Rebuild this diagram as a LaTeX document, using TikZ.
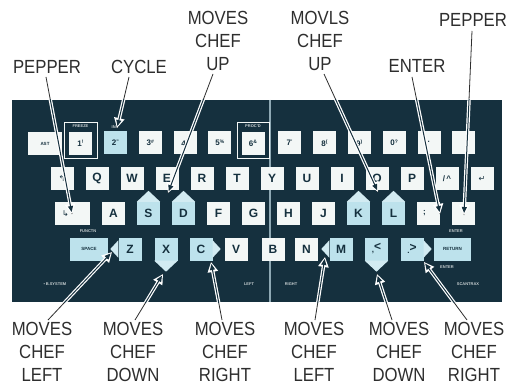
\documentclass[tikz,border=0pt]{standalone}
\usepackage{fontspec}
\setmainfont{Liberation Sans}
\newfontfamily\labfont[FakeStretch=0.88]{Liberation Sans}
\newfontfamily\symfont{DejaVu Sans}
\usetikzlibrary{arrows.meta}
\definecolor{kbd}{HTML}{15303E}
\definecolor{keyblue}{HTML}{BDE2EC}
\definecolor{keywhite}{HTML}{F3F7F6}
\definecolor{ptr}{HTML}{D2EBF2}
\definecolor{ink}{HTML}{2E2E2E}
\definecolor{divider}{HTML}{8FA9B4}
\newcommand\kl[2]{#1\raisebox{2.5pt}{\fontsize{5}{5}\selectfont #2}}
\newcommand\kbcallout[2]{%
  \draw[leader] (#1) -- (#2);
  \begin{scope}
    \clip (kb.north west) rectangle (kb.south east);
    \draw[arrout] (#1) -- (#2);
    \draw[arrin] (#1) -- (#2);
  \end{scope}}
\begin{document}
\begin{tikzpicture}[x=1pt,y=-1pt,
  keybase/.style={minimum width=23pt,minimum height=23pt,inner sep=0pt,text=kbd,font=\bfseries\fontsize{12}{12}\selectfont},
  wkey/.style={keybase,fill=keywhite},
  bkey/.style={keybase,fill=keyblue},
  numkey/.style={font=\bfseries\fontsize{8}{8}\selectfont},
  smallkey/.style={font=\bfseries\fontsize{4.5}{4.5}\selectfont},
  symkey/.style={font=\symfont\fontsize{8}{8}\selectfont},
  lab/.style={font=\labfont\fontsize{19}{23}\selectfont,text=ink,align=center,inner sep=0pt},
  tinytext/.style={font=\bfseries\fontsize{4}{4}\selectfont,text=keywhite!80!kbd,inner sep=0pt},
  leader/.style={ink,line width=0.8pt},
  arrout/.style={white,line width=3.4pt,-{Triangle[length=10pt,width=10pt]}},
  arrin/.style={kbd,line width=1pt,shorten >=2pt,-{Triangle[length=6pt,width=5pt]}},
  pointer/.style={fill=ptr}
]
\useasboundingbox (0,0) rectangle (514,385);
\fill[white] (0,0) rectangle (514,385);

% keyboard body
\node[fill=kbd,minimum width=490pt,minimum height=202pt,inner sep=0pt,anchor=north west] (kb) at (12,100) {};
\draw[divider,line width=1.2pt] (270,100) -- (270,302);

% framed keys
\draw[keywhite,line width=0.9pt] (64,122) rectangle (97,158);
\draw[keywhite,line width=0.9pt] (237,122) rectangle (269,158);
\node[tinytext] (tfreeze) at (80.5,126.5) {FREEZE};
\node[tinytext] (tprocd) at (253,126.5) {PROC'D};
\node[tinytext] (tins) at (115,127) {INS};

% row 1
\node[wkey,minimum width=34pt,smallkey] (kast) at (45,143.5) {AST};
\node[wkey,numkey] (k1) at (80.5,143.5) {\kl{1}{!}};
\node[bkey,numkey] (k2) at (115.4,143) {\kl{2}{"}};
\node[wkey,numkey] (k3) at (150.2,143) {\kl{3}{\#}};
\node[wkey,numkey] (k4) at (185,143) {\kl{4}{\$}};
\node[wkey,numkey] (k5) at (219.9,143) {\kl{5}{\%}};
\node[wkey,numkey] (k6) at (253,143.5) {\kl{6}{\&}};
\node[wkey,numkey] (k7) at (289.6,143) {\kl{7}{'}};
\node[wkey,numkey] (k8) at (324.4,143) {\kl{8}{(}};
\node[wkey,numkey] (k9) at (359.3,143) {\kl{9}{)}};
\node[wkey,numkey] (k0) at (394.1,143) {\kl{0}{?}};
\node[wkey,numkey] (keq) at (429,143) {\textperiodcentered};
\node[wkey] (kblank) at (463.8,143) {};

% row 2
\node[wkey,symkey] (kback) at (62,178.5) {↰};
\node[wkey] (kQ) at (97,178.5) {Q};
\node[wkey] (kW) at (132,178.5) {W};
\node[wkey] (kE) at (167,178.5) {E};
\node[wkey] (kR) at (202,178.5) {R};
\node[wkey] (kT) at (237,178.5) {T};
\node[wkey] (kY) at (272,178.5) {Y};
\node[wkey] (kU) at (307,178.5) {U};
\node[wkey] (kI) at (342,178.5) {I};
\node[wkey] (kO) at (377,178.5) {O};
\node[wkey] (kP) at (412,178.5) {P};
\node[wkey,numkey] (kslash) at (447,178.5) {/\,\^{}};
\node[wkey,symkey] (kret) at (482,178.5) {↵};

% row 3
\node[wkey,minimum width=35pt,symkey] (kshift) at (72.5,213.5) {\hspace*{-14pt}↳};
\node[wkey] (kA) at (113.5,213.5) {A};
\node[bkey] (kS) at (148.5,213.5) {S};
\node[bkey] (kD) at (183.5,213.5) {D};
\node[wkey] (kF) at (218.5,213.5) {F};
\node[wkey] (kG) at (253.5,213.5) {G};
\node[wkey] (kH) at (288.5,213.5) {H};
\node[wkey] (kJ) at (323.5,213.5) {J};
\node[bkey] (kK) at (358.5,213.5) {K};
\node[bkey] (kL) at (393.5,213.5) {L};
\node[wkey,numkey] (ksemi) at (428.5,213.5) {\hspace*{-8pt};};
\node[wkey] (kdown) at (463.5,213.5) {};
\node[tinytext] (tfunc) at (88,231.5) {FUNCTN};
\node[tinytext] (tenter1) at (456,231.5) {ENTER};

% row 4
\node[bkey,minimum width=38pt,smallkey] (kspace) at (89,249) {SPACE};
\node[bkey] (kZ) at (130,249) {Z};
\node[bkey] (kX) at (166,249) {X};
\node[bkey] (kC) at (201,249) {C};
\node[wkey] (kV) at (236,249) {V};
\node[wkey] (kB) at (273,249) {B};
\node[wkey] (kN) at (306.5,249) {N};
\node[bkey] (kM) at (341,249) {M};
\node[bkey] (kless) at (376.5,249) {\raisebox{-2pt}{\fontsize{8}{8}\selectfont,}<};
\node[bkey] (kgreater) at (412,249) {\raisebox{-2pt}{\fontsize{8}{8}\selectfont.}>};
\node[bkey,minimum width=37pt,smallkey] (kreturn) at (452.5,249) {RETURN};
\node[tinytext] (tenter2) at (447,267) {ENTER};

% direction pointers
\fill[pointer] (kS.north west) -- ([yshift=11pt]kS.north) -- (kS.north east) -- cycle;
\fill[pointer] (kD.north west) -- ([yshift=11pt]kD.north) -- (kD.north east) -- cycle;
\fill[pointer] (kK.north west) -- ([yshift=11pt]kK.north) -- (kK.north east) -- cycle;
\fill[pointer] (kL.north west) -- ([yshift=11pt]kL.north) -- (kL.north east) -- cycle;
\fill[pointer] ([yshift=-3pt]kZ.north west) -- ([xshift=-8pt]kZ.west) -- ([yshift=3pt]kZ.south west) -- cycle;
\fill[pointer] ([yshift=-3pt]kM.north west) -- ([xshift=-8pt]kM.west) -- ([yshift=3pt]kM.south west) -- cycle;
\fill[pointer] ([yshift=-3pt]kC.north east) -- ([xshift=8pt]kC.east) -- ([yshift=3pt]kC.south east) -- cycle;
\fill[pointer] ([yshift=-3pt]kgreater.north east) -- ([xshift=8pt]kgreater.east) -- ([yshift=3pt]kgreater.south east) -- cycle;
\fill[pointer] (kX.south west) -- ([yshift=-11pt]kX.south) -- (kX.south east) -- cycle;
\fill[pointer] (kless.south west) -- ([yshift=-11pt]kless.south) -- (kless.south east) -- cycle;

% bottom tiny texts
\node[tinytext] (tbrand) at (55,284) {\textbullet\,B.SYSTEM};
\node[tinytext] (tleft) at (249,284) {LEFT};
\node[tinytext] (tright) at (291,284) {RIGHT};
\node[tinytext] (tscan) at (468,284) {SCANTRAX};

% labels
\node[lab] (pepL) at (47,67) {PEPPER};
\node[lab] (cycle) at (139,67) {CYCLE};
\node[lab] (upL) at (218,41) {MOVES\\CHEF\\UP};
\node[lab] (upR) at (320,41) {MOVLS\\CHEF\\UP};
\node[lab] (enter) at (417,66) {ENTER};
\node[lab] (pepR) at (473,20) {PEPPER};
\node[lab] (leftL) at (42,352) {MOVES\\CHEF\\LEFT};
\node[lab] (downL) at (133,352) {MOVES\\CHEF\\DOWN};
\node[lab] (rightL) at (225,352) {MOVES\\CHEF\\RIGHT};
\node[lab] (leftR) at (314,352) {MOVES\\CHEF\\LEFT};
\node[lab] (downR) at (399,352) {MOVES\\CHEF\\DOWN};
\node[lab] (rightR) at (474,352) {MOVES\\CHEF\\RIGHT};

% connector end points
\coordinate (sPepL) at (46,77);   \coordinate (ePepL) at (72,214);
\coordinate (sCyc) at (129,77);   \coordinate (eCyc) at (117,128);
\coordinate (sUpL) at (213,74);   \coordinate (eUpL) at (168,193);
\coordinate (sUpR) at (324,74);   \coordinate (eUpR) at (378,192);
\coordinate (sEnt) at (412,77);   \coordinate (eEnt) at (440,214);
\coordinate (sPepR) at (472,31);  \coordinate (ePepR) at (464,215);
\coordinate (sLeftL) at (48,320); \coordinate (eLeftL) at (112,252);
\coordinate (sDownL) at (135,320);\coordinate (eDownL) at (163,274);
\coordinate (sRightL) at (222,320);\coordinate (eRightL) at (211,262);
\coordinate (sLeftR) at (315,320);\coordinate (eLeftR) at (325,257);
\coordinate (sDownR) at (392,320);\coordinate (eDownR) at (377,274);
\coordinate (sRightR) at (467,320);\coordinate (eRightR) at (424,262);

\kbcallout{sPepL}{ePepL}
\kbcallout{sCyc}{eCyc}
\kbcallout{sUpL}{eUpL}
\kbcallout{sUpR}{eUpR}
\kbcallout{sEnt}{eEnt}
\kbcallout{sPepR}{ePepR}
\kbcallout{sLeftL}{eLeftL}
\kbcallout{sDownL}{eDownL}
\kbcallout{sRightL}{eRightL}
\kbcallout{sLeftR}{eLeftR}
\kbcallout{sDownR}{eDownR}
\kbcallout{sRightR}{eRightR}
\end{tikzpicture}
\end{document}
